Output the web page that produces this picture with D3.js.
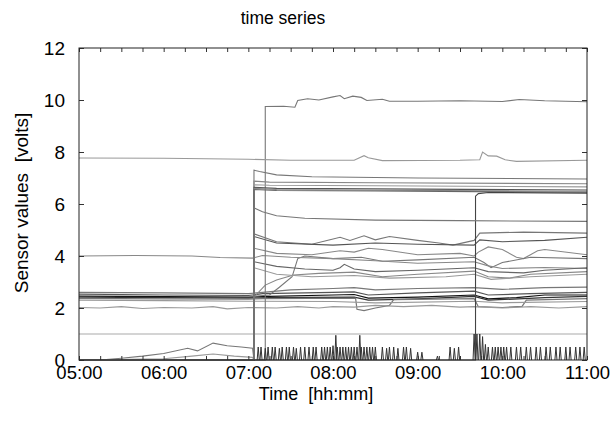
<!DOCTYPE html>
<html>
<head>
<meta charset="utf-8">
<script src="https://cdn.jsdelivr.net/npm/d3@7"></script>
<style>
  body { margin: 0; background: #fff; }
  svg { display: block; }
  text { font-family: "Liberation Sans", Arial, Helvetica, sans-serif; fill: #000; }
</style>
</head>
<body>
<div id="chart"></div>
<script>
// ---- data ----
const xTickLabels = ["05:00", "06:00", "07:00", "08:00", "09:00", "10:00", "11:00"];
const yTickValues = [0, 2, 4, 6, 8, 10, 12];

// upper sensors, [hh:mm, volts]
const upperLines = [
  [["05:00",0],["07:12",0],["07:12",9.75],["07:25",9.76],["07:33",9.72],["07:35",9.98],["07:42",10.05],["07:50",10.0],["08:00",10.12],["08:05",10.17],["08:08",10.05],["08:14",10.15],["08:20",10.1],["08:24",9.98],["08:35",10.03],["08:40",9.95],["09:00",9.95],["09:30",9.97],["10:00",9.94],["10:12",10.02],["10:30",9.97],["11:00",9.93]],
  [["05:00",7.77],["06:00",7.76],["07:00",7.72],["07:30",7.68],["08:15",7.68],["08:22",7.86],["08:25",7.78],["08:35",7.67],["09:30",7.68],["09:44",7.7],["09:46",8.0],["09:50",7.85],["09:56",7.84],["10:02",7.7],["10:10",7.64],["11:00",7.68]],
  [["05:00",0],["07:04",0],["07:04",7.3],["07:08",7.25],["07:20",7.12],["07:45",7.05],["09:00",7.0],["11:00",6.96]],
  [["05:00",0],["07:04",0],["07:04",6.88],["07:15",6.84],["08:30",6.82],["11:00",6.78]],
  [["05:00",0],["07:04",0],["07:04",6.74],["07:15",6.72],["08:30",6.7],["11:00",6.66]],
  [["05:00",0],["07:04",0],["07:04",6.64],["07:20",6.6],["08:30",6.58],["11:00",6.54]],
  [["05:00",0],["07:04",0],["07:04",6.6],["07:20",6.56],["08:30",6.53],["11:00",6.49]],
  [["05:00",0],["07:04",0],["07:04",6.56],["07:20",6.52],["08:30",6.5],["11:00",6.45]],
  [["05:00",0],["09:41",0],["09:41",6.3],["09:43",6.4],["09:50",6.44],["11:00",6.42]],
  [["05:00",0],["07:04",0],["07:04",5.85],["07:10",5.7],["07:20",5.55],["07:40",5.45],["08:30",5.38],["09:30",5.36],["11:00",5.33]]
];

// middle sensors, 3 - 5 V
const midLines = [
  [["05:00",0],["07:04",0],["07:04",4.85],["07:20",4.55],["07:45",4.45],["08:05",4.72],["08:12",4.6],["08:22",4.78],["08:30",4.62],["08:40",4.75],["09:00",4.6],["09:15",4.5],["09:25",4.42],["09:40",4.6],["09:44",4.88],["10:15",4.92],["11:00",4.88]],
  [["05:00",0],["07:04",0],["07:04",4.75],["07:20",4.5],["08:00",4.42],["08:30",4.5],["09:00",4.45],["09:40",4.42],["09:44",4.62],["10:00",4.55],["10:30",4.6],["11:00",4.72]],
  [["05:00",0],["07:04",0],["07:04",4.3],["07:20",4.1],["07:45",4.05],["08:05",4.2],["08:15",4.15],["08:25",4.3],["08:35",4.25],["09:00",4.05],["09:30",4.1],["09:40",4.0],["09:43",4.15],["09:50",4.35],["10:00",4.25],["10:10",3.95],["10:15",3.9],["10:25",4.2],["10:30",4.25],["11:00",4.05]],
  [["05:00",0],["07:04",0],["07:04",2.45],["07:15",2.5],["07:22",2.8],["07:31",3.2],["07:35",3.9],["07:40",4.0],["08:00",3.9],["08:20",3.95],["08:35",3.8],["09:00",3.85],["09:40",3.95],["09:47",3.75],["09:52",3.55],["10:00",3.75],["10:20",3.95],["11:00",3.9]],
  [["05:00",4.0],["05:40",4.02],["06:20",4.0],["06:40",3.94],["07:03",3.92],["07:10",4.02],["07:30",3.95],["08:00",3.9],["08:30",3.82],["09:00",3.72],["09:40",3.78],["09:50",3.62],["10:00",3.52],["10:30",3.56],["11:00",3.52]],
  [["05:00",0],["07:04",0],["07:04",3.78],["07:20",3.6],["07:40",3.5],["08:00",3.45],["08:05",3.55],["08:08",3.68],["08:15",3.5],["08:30",3.4],["09:00",3.45],["09:40",3.55],["09:50",3.4],["10:15",3.35],["10:30",3.45],["11:00",3.55]],
  [["05:00",0],["07:04",0],["07:04",2.42],["07:12",2.88],["07:20",3.08],["07:32",3.27],["07:50",3.33],["08:15",3.38],["08:35",3.2],["09:00",3.3],["09:40",3.42],["09:50",3.2],["10:05",3.15],["10:20",3.3],["11:00",3.4]],
  [["05:00",0],["07:04",0],["07:04",3.55],["07:20",3.3],["07:45",3.2],["08:15",3.25],["08:40",3.15],["09:20",3.2],["09:40",3.3],["09:52",3.1],["10:20",3.2],["11:00",3.3]]
];

// the thick band round 2.4 V
const bandLines = [
  [["05:00",2.6],["06:00",2.58],["07:00",2.55],["07:10",2.6],["07:30",2.7],["08:00",2.75],["08:15",2.78],["08:30",2.7],["09:00",2.75],["09:40",2.78],["10:00",2.72],["10:30",2.78],["11:00",2.8]],
  [["05:00",2.53],["06:00",2.5],["07:00",2.48],["07:10",2.55],["08:00",2.6],["08:15",2.62],["08:25",2.5],["09:00",2.58],["09:40",2.65],["09:50",2.5],["10:20",2.55],["11:00",2.6]],
  [["05:00",2.46],["06:00",2.44],["07:00",2.42],["07:15",2.45],["08:00",2.5],["08:15",2.52],["08:25",2.38],["09:00",2.42],["09:40",2.5],["09:50",2.35],["10:10",2.4],["10:30",2.5],["11:00",2.5]],
  [["05:00",2.42],["06:00",2.4],["07:00",2.38],["07:15",2.4],["08:15",2.42],["08:25",2.3],["09:00",2.35],["09:40",2.45],["09:50",2.3],["10:30",2.4],["11:00",2.45]],
  [["05:00",2.37],["06:00",2.35],["07:00",2.34],["07:10",2.36],["08:16",2.38],["08:17",1.95],["08:22",1.9],["08:30",2.0],["08:40",2.1],["08:43",2.32],["09:40",2.36],["09:43",2.05],["10:00",2.02],["10:14",2.06],["10:17",2.3],["11:00",2.36]],
  [["05:00",2.3],["06:00",2.28],["07:00",2.26],["08:00",2.25],["08:30",2.2],["09:40",2.26],["10:00",2.2],["11:00",2.25]],
  [["05:00",2.02],["05:15",2.0],["05:30",2.05],["05:45",1.98],["06:00",2.02],["06:20",2.0],["06:35",2.05],["06:45",1.97],["07:00",2.02],["07:20",2.0],["07:35",2.05],["07:50",2.0],["08:00",2.05],["08:15",2.03],["08:30",2.1],["08:50",2.05],["09:10",2.1],["09:30",2.03],["09:40",2.05],["10:00",2.0],["10:20",2.05],["10:40",2.0],["11:00",2.05]],
  [["05:00",1.0],["11:00",1.0]]
];

// low sensors before the switch-on
const lowLines = [
  [["05:00",0],["05:15",0],["05:30",0.07],["05:45",0.15],["06:00",0.25],["06:17",0.45],["06:24",0.35],["06:35",0.65],["06:45",0.55],["06:55",0.5],["07:03",0.45],["07:04",0]],
  [["05:00",0],["06:00",0.05],["06:20",0.15],["06:35",0.23],["06:50",0.15],["07:03",0.1],["07:04",0]]
];

// on/off pulses after 07:00
const spikeTimes = ["07:07","07:09","07:12","07:14","07:17","07:19","07:22","07:24","07:27","07:29","07:32","07:34","07:37","07:40","07:43","07:46","07:48",
  "07:52","07:54","07:56","07:58","08:00","08:02","08:03","08:05","08:07","08:09","08:11",
  "08:13","08:15","08:17","08:19","08:20","08:22","08:24","08:26","08:28","08:30",
  "08:35","08:38","08:40","08:43","08:46","08:50","08:52","08:55","09:00","09:03",
  "09:14","09:23","09:26","09:29",
  "09:40","09:42","09:44","09:46","09:48","09:50",
  "09:53","09:55","09:57","09:59","10:01","10:03",
  "10:06","10:10","10:13","10:17","10:20","10:24","10:27","10:31","10:34","10:38","10:41","10:45","10:48","10:52","10:55","10:58"];
const spikeHeights = [0.5,0.5,0.45,0.5,0.5,0.5,0.45,0.5,0.5,0.5,0.5,0.45,0.5,0.5,0.5,0.5,0.5,
  0.5,0.5,0.5,0.5,0.55,0.95,0.5,0.5,0.5,0.5,0.5,
  0.5,0.5,0.5,0.95,0.5,0.5,0.5,0.5,0.5,0.5,
  0.5,0.45,0.5,0.5,0.45,0.5,0.5,0.45,0.3,0.3,
  0.15,0.5,0.45,0.5,
  1.0,1.0,1.0,0.9,0.6,0.5,
  0.5,0.5,0.5,0.5,0.5,0.5,
  0.5,0.5,0.5,0.5,0.5,0.5,0.5,0.5,0.5,0.5,0.5,0.5,0.5,0.5,0.5,0.5];

// ---- drawing ----
const W = 616, H = 425;
const margin = { top: 48, right: 29, bottom: 65, left: 79 };
const parse = d3.timeParse("%H:%M");

const svg = d3.select("#chart").append("svg")
  .attr("width", W)
  .attr("height", H);

const x = d3.scaleTime()
  .domain([parse(xTickLabels[0]), parse(xTickLabels[xTickLabels.length - 1])])
  .range([margin.left, W - margin.right]);

const y = d3.scaleLinear()
  .domain([0, 12])
  .range([H - margin.bottom, margin.top]);

const line = d3.line()
  .x(d => x(parse(d[0])))
  .y(d => y(d[1]));

const plot = svg.append("g");

const drawGroup = function (data, shades, width) {
  plot.append("g")
    .attr("fill", "none")
    .selectAll("path")
    .data(data)
    .join("path")
    .attr("d", line)
    .attr("stroke", (d, i) => shades[i % shades.length])
    .attr("stroke-width", width);
}

drawGroup(lowLines, ["#777", "#999"], 1.1);
drawGroup(bandLines, ["#777", "#555", "#111", "#333", "#777", "#999", "#999", "#aaa"], 1.2);
drawGroup(midLines, ["#777", "#555", "#888", "#777", "#888", "#666", "#888", "#999"], 1.1);
drawGroup(upperLines, ["#777", "#999", "#777", "#888", "#999", "#555", "#888", "#666", "#444", "#777"], 1.1);

// pulses: a small "^" on each switch time
const halfWidth = 45 * 1000;
const spikes = spikeTimes.map((t, i) => {
  const c = parse(t);
  return [[new Date(+c - halfWidth), 0], [c, spikeHeights[i]], [new Date(+c + halfWidth), 0]];
});

plot.append("g")
  .attr("fill", "none")
  .selectAll("path")
  .data(spikes)
  .join("path")
  .attr("d", d3.line().x(d => x(d[0])).y(d => y(d[1])))
  .attr("stroke", "#333")
  .attr("stroke-width", 1);

// axes, ticks point inward on all four sides
const minor = d3.timeMinute.every(15);
const hourFmt = d3.timeFormat("%H:%M");

const xb = svg.append("g")
  .attr("transform", `translate(0,${H - margin.bottom})`)
  .call(d3.axisBottom(x).ticks(minor).tickSize(-4)
    .tickFormat(d => d.getMinutes() === 0 ? hourFmt(d) : ""));
xb.selectAll("text").attr("y", 6).attr("dy", "0.71em").style("font-size", "18.5px");

svg.append("g")
  .attr("transform", `translate(0,${margin.top})`)
  .call(d3.axisTop(x).ticks(minor).tickSize(-4).tickFormat(""));

const yl = svg.append("g")
  .attr("transform", `translate(${margin.left},0)`)
  .call(d3.axisLeft(y).tickValues(yTickValues).tickSize(-5).tickPadding(14));
yl.selectAll("text").style("font-size", "19px");

svg.append("g")
  .attr("transform", `translate(${W - margin.right},0)`)
  .call(d3.axisRight(y).tickValues(yTickValues).tickSize(-5).tickFormat(""));

svg.selectAll(".domain").remove();
svg.selectAll(".tick line").attr("stroke", "#333");

svg.append("rect")
  .attr("x", margin.left)
  .attr("y", margin.top)
  .attr("width", W - margin.left - margin.right)
  .attr("height", H - margin.top - margin.bottom)
  .attr("fill", "none")
  .attr("stroke", "#222")
  .attr("stroke-width", 1);

// titles
svg.append("text")
  .attr("x", 283).attr("y", 24)
  .attr("text-anchor", "middle")
  .style("font-size", "17.5px")
  .text("time series");

svg.append("text")
  .attr("x", 316).attr("y", 399.5)
  .attr("text-anchor", "middle")
  .style("font-size", "18px")
  .attr("xml:space", "preserve")
  .text("Time  [hh:mm]");

svg.append("text")
  .attr("transform", "translate(28,203) rotate(-90)")
  .attr("text-anchor", "middle")
  .style("font-size", "19px")
  .attr("xml:space", "preserve")
  .text("Sensor values  [volts]");
</script>
</body>
</html>
